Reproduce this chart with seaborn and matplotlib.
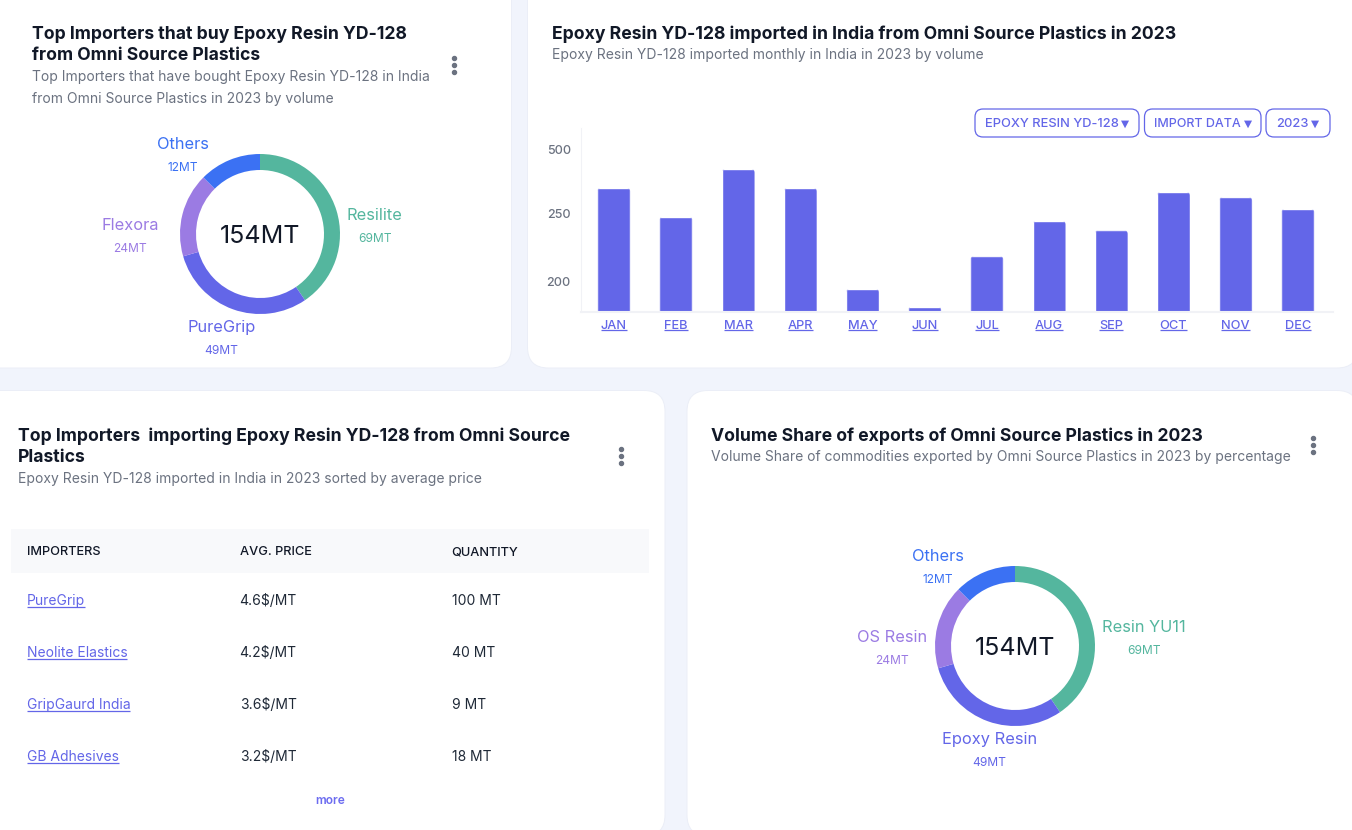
import numpy as np
import matplotlib
matplotlib.use("Agg")
import matplotlib.pyplot as plt
from matplotlib.patches import FancyBboxPatch, PathPatch, Rectangle
from matplotlib.path import Path
from matplotlib.transforms import IdentityTransform
import pandas as pd
import seaborn as sns

# bar chart data
months = ["JAN", "FEB", "MAR", "APR", "MAY", "JUN", "JUL", "AUG", "SEP", "OCT", "NOV", "DEC"]
monthly_volume = [352, 248, 426, 352, 195, 182, 219, 245, 238, 336, 316, 270]
y_ticks = [200, 250, 500]

# donuts: arc sizes are read from the picture, they do not follow the printed MT
slice_sizes = [40.5, 30, 17, 12.5]
importers_names = ["Resilite", "PureGrip", "Flexora", "Others"]
commodity_names = ["Resin YU11", "Epoxy Resin", "OS Resin", "Others"]
slice_labels = ["69MT", "49MT", "24MT", "12MT"]
donut_total = "154MT"

# table
table_headers = ["IMPORTERS", "AVG. PRICE", "QUANTITY"]
table_importers = ["PureGrip", "Neolite Elastics", "GripGaurd India", "GB Adhesives"]
table_prices = ["4.6$/MT", "4.2$/MT", "3.6$/MT", "3.2$/MT"]
table_quantities = ["100 MT", "40 MT", "9 MT", "18 MT"]

filters = ["EPOXY RESIN YD-128", "IMPORT DATA", "2023"]

W, H = 1352, 830
BG = "#F1F4FC"
INK = "#111827"
GREY = "#6B7280"
INDIGO = "#6366E8"
donut_colors = ["#54B69E", "#6366E8", "#9B7BE3", "#3B71F3"]
TITLE = 17.62
SUB = 13.92

sns.set_theme(style="white")
plt.rcParams["font.family"] = ["Inter", "DejaVu Sans"]

fig = plt.figure(figsize=(W / 100, H / 100), dpi=100, facecolor=BG)

# whole figure axes in pixel coordinates, used for the cards and loose text
bg = fig.add_axes([0, 0, 1, 1], zorder=0)
bg.set_xlim(0, W)
bg.set_ylim(H, 0)
bg.axis("off")


def px(size):
    return size * 0.72


def add_text(x, y, s, size, color=INK, weight="normal", ha="left"):
    return bg.text(x - 0.4, y - 0.2, s, fontsize=px(size), color=color, fontweight=weight,
                   ha=ha, va="center_baseline")


def add_card(x0, y0, x1, y1):
    r = 21
    bg.add_patch(FancyBboxPatch((x0 + r, y0 + r), x1 - x0 - 2 * r, y1 - y0 - 2 * r,
                                boxstyle=f"round,pad={r},rounding_size={r}",
                                fc="white", ec="#EBEEF7", lw=0.7))


def add_kebab(x, y):
    bg.plot([x, x, x], [y - 6.6, y, y + 6.6], ls="none", marker="o", ms=2.9, color="#6B7280")


def add_donut(cx, cy, names, label_pos):
    ax = fig.add_axes([(cx - 80) / W, 1 - (cy + 80) / H, 160 / W, 160 / H], zorder=2)
    ax.pie(slice_sizes, colors=sns.color_palette(donut_colors), startangle=90, counterclock=False,
           radius=1, wedgeprops=dict(width=0.2, linewidth=0))
    ax.set_xlim(-1, 1)
    ax.set_ylim(-1, 1)
    ax.patch.set_alpha(0)
    add_text(cx, cy, donut_total, 25, INK, ha="center").set_zorder(5)
    for name, mt, color, (x, y) in zip(names, slice_labels, donut_colors, label_pos):
        add_text(x, y, name, 16.4, color, ha="center")
        add_text(x, y + 23.6, mt, 12, color, ha="center")


add_card(-30, -30, 511.5, 368)
add_card(527.5, -30, 1358, 368)
add_card(-30, 390.5, 665, 836)
add_card(687, 390.5, 1358, 836)

# top left
add_text(32, 32, "Top Importers that buy Epoxy Resin YD-128", TITLE, weight="bold")
add_text(32, 54, "from Omni Source Plastics", TITLE, weight="bold")
add_text(32, 76, "Top Importers that have bought Epoxy Resin YD-128 in India", SUB, GREY)
add_text(32, 98, "from Omni Source Plastics in 2023 by volume", SUB, GREY)
add_kebab(454, 65)
add_donut(260, 234, importers_names, [(375, 214), (222, 326), (130.5, 224), (183, 143)])

# top right
add_text(552, 32, "Epoxy Resin YD-128 imported in India from Omni Source Plastics in 2023", TITLE, weight="bold")
add_text(552, 54, "Epoxy Resin YD-128 imported monthly in India in 2023 by volume", SUB, GREY)

pill_edges = [(975, 1139), (1144.5, 1261), (1266, 1330)]
arrow_x = [1125.5, 1248.5, 1315.5]
pill_sizes = [12.9, 12.5, 12.9]
for label, (x0, x1), arrow, size in zip(filters, pill_edges, arrow_x, pill_sizes):
    bg.add_patch(FancyBboxPatch((x0 + 8, 109 + 8), x1 - x0 - 16, 28 - 16,
                                boxstyle="round,pad=8,rounding_size=8",
                                fc="white", ec=INDIGO, lw=0.9))
    add_text(x0 + 10.2, 123, label, size, INDIGO, weight="medium")
    bg.text(arrow, 123.5, "▼", fontsize=px(10.5), color=INDIGO, ha="center", va="center",
            family=["DejaVu Sans"])

# bars, the axis in the picture is not linear so it gets a piecewise scale
value_knots = [0, 178, 200, 250, 500, 700]
height_knots = [-100, 0, 30, 98, 162, 213]


def forward(v):
    return np.interp(v, value_knots, height_knots)


def inverse(h):
    return np.interp(h, height_knots, value_knots)


bar_ax = fig.add_axes([580.5 / W, 1 - 312 / H, (1333 - 580.5) / W, 184 / H], zorder=2)
df = pd.DataFrame({"month": months, "volume": monthly_volume})
sns.barplot(data=df, x="month", y="volume", color=INDIGO, saturation=1, width=0.53, ax=bar_ax)
bar_ax.set_yscale("function", functions=(forward, inverse))
bar_ax.set_ylim(178, 586)
bar_ax.set_xlim(-0.535, 11.565)
bar_ax.set_yticks(y_ticks)
bar_ax.minorticks_off()
bar_ax.set_xlabel("")
bar_ax.set_ylabel("")
bar_ax.patch.set_alpha(0)
bar_ax.tick_params(axis="y", length=0, pad=7, labelsize=px(12.5), labelcolor=GREY)
bar_ax.tick_params(axis="x", length=0, pad=5.5, labelsize=px(12.8), labelcolor=INDIGO)
for lab in bar_ax.get_yticklabels() + bar_ax.get_xticklabels():
    lab.set_fontweight("medium")
sns.despine(ax=bar_ax, top=True, right=True)
bar_ax.spines["left"].set_color("#F1F2F6")
bar_ax.spines["bottom"].set_color("#F1F2F6")
bar_ax.spines["bottom"].set_linewidth(1.5)
bar_ax.spines["left"].set_linewidth(0.8)

# rounded tops: clip each bar to a path built from its own position
fig.canvas.draw()
r = 4
for bar in bar_ax.patches:
    x0, top = bar_ax.transData.transform((bar.get_x(), bar.get_height()))
    x1, base = bar_ax.transData.transform((bar.get_x() + bar.get_width(), 178))
    rr = min(r, (top - base) * 0.9)
    verts = [(x0, base), (x0, top - rr), (x0, top), (x0 + rr, top), (x1 - rr, top),
             (x1, top), (x1, top - rr), (x1, base), (x0, base)]
    codes = [Path.MOVETO, Path.LINETO, Path.CURVE3, Path.CURVE3, Path.LINETO,
             Path.CURVE3, Path.CURVE3, Path.LINETO, Path.CLOSEPOLY]
    clip = PathPatch(Path(verts, codes), transform=IdentityTransform())
    bar.set_clip_path(clip)

rend = fig.canvas.get_renderer()


def underline(artist, gap=2.5):
    box = artist.get_window_extent(rend)
    y = H - box.y0
    bg.plot([box.x0, box.x1], [y + gap, y + gap], color=INDIGO, lw=0.9, solid_capstyle="butt", zorder=3)


for lab in bar_ax.get_xticklabels():
    underline(lab, -1.5)

# bottom left
add_text(18.5, 434, "Top Importers  importing Epoxy Resin YD-128 from Omni Source", TITLE, weight="bold")
add_text(18.5, 456, "Plastics", TITLE, weight="bold")
add_text(18.5, 478, "Epoxy Resin YD-128 imported in India in 2023 sorted by average price", SUB, GREY)
add_kebab(621, 456)

bg.add_patch(Rectangle((11, 529), 638, 44, fc="#F8F9FB", ec="none"))
col_x = [27, 240, 452]
for x, head in zip(col_x, table_headers):
    add_text(x, 551, head, 12.8, INK, weight="medium")
row_y = [599.3, 651.3, 703.3, 755.5]
for y, name, price, qty in zip(row_y, table_importers, table_prices, table_quantities):
    link = add_text(col_x[0], y, name, 13.9, INDIGO)
    underline(link, -0.5)
    add_text(col_x[1], y, price, 13.9, "#1F2937")
    add_text(col_x[2], y, qty, 13.9, "#1F2937")
add_text(330.5, 799.5, "more", 12, "#6C6CF0", weight="semibold", ha="center")

# bottom right
add_text(711, 434, "Volume Share of exports of Omni Source Plastics in 2023", TITLE, weight="bold")
add_text(711, 456, "Volume Share of commodities exported by Omni Source Plastics in 2023 by percentage", SUB, GREY)
add_kebab(1313, 445)
add_donut(1015, 646, commodity_names, [(1144.5, 626), (990, 738), (892, 636), (938, 555.5)])

fig.savefig("out.png", dpi=100, facecolor=BG)
